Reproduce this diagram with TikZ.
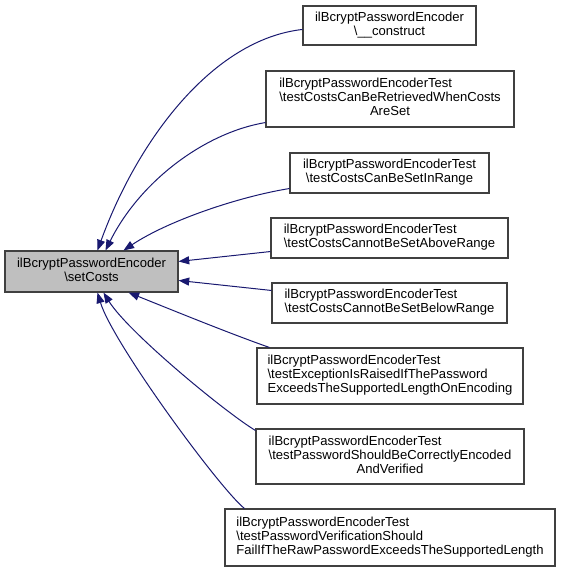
\documentclass[tikz,border=0pt]{standalone}
\usepackage{fontspec}
\setmainfont{Liberation Sans}
\usetikzlibrary{arrows.meta,calc}
\definecolor{edgeblue}{HTML}{191970}
\definecolor{boxline}{HTML}{404040}
\definecolor{mainfill}{HTML}{BFBFBF}
\newcommand{\lns}[1]{\begin{tabular}{@{}l@{}}#1\end{tabular}}
\newcommand{\cns}[1]{\begin{tabular}{@{}c@{}}#1\end{tabular}}
\newcommand{\cl}[1]{\multicolumn{1}{@{}c@{}}{#1}}
\begin{document}
\begin{tikzpicture}[x=0.75pt,y=-0.75pt,
  box/.style={draw=boxline,line width=0.8pt,inner sep=0pt,fill=white,
    rectangle,font=\fontsize{9.8}{10.5}\selectfont},
  mainbox/.style={box,fill=mainfill},
  edge/.style={draw=edgeblue,line width=0.75pt,
    -{Triangle[length=8pt,width=6pt]}}]
\useasboundingbox (0,0) rectangle (560,570);
\node[mainbox,minimum width=129.75pt,minimum height=30.75pt] (main) at (91.5,271.5) {\cns{ilBcryptPasswordEncoder\\\textbackslash setCosts}};
\node[box,minimum width=129.75pt,minimum height=29.25pt] (b1) at (389.5,25.5) {\cns{ilBcryptPasswordEncoder\\\textbackslash\_\_construct}};
\node[box,minimum width=186pt,minimum height=42pt] (b2) at (390,99) {\lns{ilBcryptPasswordEncoderTest\\\textbackslash testCostsCanBeRetrievedWhenCosts\\\cl{AreSet}}};
\node[box,minimum width=149.25pt,minimum height=30pt] (b3) at (389.5,173) {\cns{ilBcryptPasswordEncoderTest\\\textbackslash testCostsCanBeSetInRange}};
\node[box,minimum width=177.75pt,minimum height=30pt] (b4) at (389.5,238) {\lns{ilBcryptPasswordEncoderTest\\\textbackslash testCostsCannotBeSetAboveRange}};
\node[box,minimum width=176.25pt,minimum height=30pt] (b5) at (389.5,303) {\lns{ilBcryptPasswordEncoderTest\\\textbackslash testCostsCannotBeSetBelowRange}};
\node[box,minimum width=199.5pt,minimum height=42pt] (b6) at (390,376) {\lns{ilBcryptPasswordEncoderTest\\\textbackslash testExceptionIsRaisedIfThePassword\\ExceedsTheSupportedLengthOnEncoding}};
\node[box,minimum width=201pt,minimum height=41.25pt] (b7) at (390,456.5) {\lns{ilBcryptPasswordEncoderTest\\\textbackslash testPasswordShouldBeCorrectlyEncoded\\\cl{AndVerified}}};
\node[box,minimum width=247.5pt,minimum height=42.75pt] (b8) at (390,537.5) {\lns{ilBcryptPasswordEncoderTest\\\textbackslash testPasswordVerificationShould\\FailIfTheRawPasswordExceedsTheSupportedLength}};
\draw[edge] ($(b1.north west)+(0,24)$) .. controls +(-90,10) and +(40,-110) .. ($(main.north west)+(93,0)$);
\draw[edge] ($(b2.south west)+(0,-5)$) .. controls +(-60,10) and +(35,-70) .. ($(main.north west)+(101,0)$);
\draw[edge] ($(b3.south west)+(0,-5)$) .. controls +(-50,8) and +(45,-30) .. ($(main.north west)+(119,0)$);
\draw[edge] ($(b4.south west)+(0,-7)$) -- ($(main.north east)+(0,11)$);
\draw[edge] ($(b5.north west)+(0,8)$) -- ($(main.north east)+(0,30)$);
\draw[edge] ($(b6.north west)+(13,0)$) .. controls +(-40,-14) and +(40,16) .. ($(main.south west)+(124,0)$);
\draw[edge] ($(b7.north west)+(0,2)$) .. controls +(-30,-18) and +(25,40) .. ($(main.south west)+(99,0)$);
\draw[edge] ($(b8.north west)+(20,0)$) .. controls +(-25,-20) and +(15,50) .. ($(main.south west)+(93,0)$);
\end{tikzpicture}
\end{document}
